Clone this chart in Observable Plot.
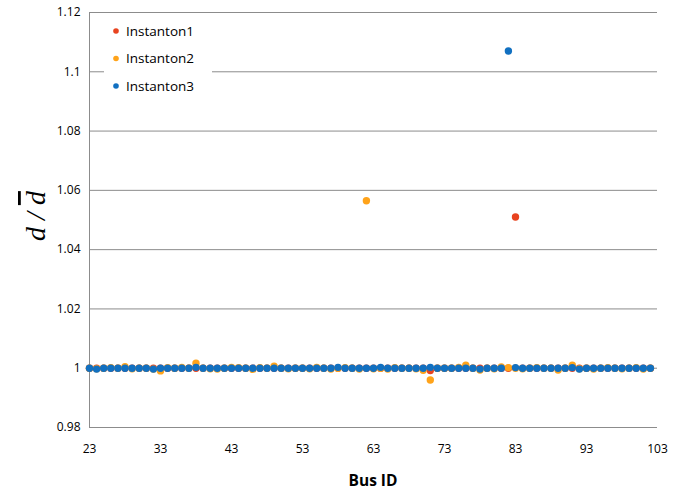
<!DOCTYPE html>
<html>
<head>
<meta charset="utf-8">
<script src="https://cdn.jsdelivr.net/npm/d3@7"></script>
<script src="https://cdn.jsdelivr.net/npm/@observablehq/plot@0.6"></script>
<style>
  html, body { margin: 0; padding: 0; background: #fff; }
  #chart svg { display: block; }
</style>
</head>
<body>
<div id="chart"></div>
<script>
// ---- Data ----
const seriesNames = ["Instanton1", "Instanton2", "Instanton3"];
const seriesColors = ["#E8431F", "#FFA31A", "#1170C1"];
const busIds = d3.range(23, 103); // 23 .. 102

// Instanton1 (red)
const instanton1 = [
  1.0000, 1.0000, 1.0000, 1.0000, 1.0000, 1.0000, 1.0000, 1.0000, 1.0000, 1.0000, // 23-32
  1.0000, 1.0000, 1.0000, 1.0000, 1.0000, 1.0000, 1.0000, 1.0000, 1.0000, 1.0000, // 33-42
  1.0000, 1.0000, 1.0000, 1.0000, 1.0000, 1.0000, 1.0000, 1.0000, 1.0000, 1.0000, // 43-52
  1.0000, 1.0000, 1.0000, 1.0000, 1.0000, 1.0000, 1.0000, 1.0000, 1.0000, 1.0000, // 53-62
  1.0000, 1.0000, 1.0000, 1.0000, 1.0000, 1.0000, 1.0000, 1.0000, 0.9992, 1.0000, // 63-72
  1.0000, 1.0000, 1.0000, 1.0000, 1.0000, 1.0000, 1.0000, 1.0000, 1.0000, 1.0000, // 73-82
  1.0510, 1.0000, 1.0000, 1.0000, 1.0000, 1.0000, 1.0000, 1.0000, 1.0000, 1.0000, // 83-92
  1.0000, 1.0000, 1.0000, 1.0000, 1.0000, 1.0000, 1.0000, 1.0000, 1.0000, 1.0000  // 93-102
];
// Instanton2 (orange)
const instanton2 = [
  1.0000, 0.9998, 1.0000, 1.0002, 1.0000, 1.0005, 0.9998, 1.0000, 1.0000, 0.9997, // 23-32
  0.9991, 1.0002, 1.0000, 1.0003, 1.0000, 1.0017, 1.0000, 0.9998, 0.9997, 1.0000, // 33-42
  1.0003, 1.0002, 1.0000, 0.9996, 1.0002, 1.0000, 1.0007, 1.0000, 0.9998, 1.0000, // 43-52
  1.0000, 0.9998, 1.0003, 1.0000, 0.9997, 1.0000, 1.0002, 1.0000, 0.9997, 1.0565, // 53-62
  0.9998, 1.0000, 0.9997, 1.0002, 1.0000, 1.0000, 0.9998, 0.9993, 0.9960, 1.0000, // 63-72
  1.0000, 1.0000, 1.0003, 1.0010, 1.0000, 0.9994, 1.0000, 0.9998, 1.0004, 1.0002, // 73-82
  1.0000, 0.9998, 1.0000, 1.0002, 1.0000, 1.0000, 0.9994, 1.0000, 1.0010, 0.9998, // 83-92
  1.0000, 0.9997, 1.0000, 1.0002, 1.0000, 0.9998, 1.0000, 1.0002, 0.9997, 1.0000  // 93-102
];
// Instanton3 (blue)
const instanton3 = [
  1.0000, 0.9997, 1.0000, 1.0000, 1.0000, 1.0000, 1.0000, 1.0000, 1.0000, 0.9997, // 23-32
  1.0000, 1.0000, 1.0000, 1.0000, 1.0000, 1.0003, 1.0000, 1.0000, 1.0000, 1.0000, // 33-42
  1.0000, 1.0000, 1.0000, 1.0000, 1.0000, 1.0000, 1.0000, 1.0000, 1.0000, 1.0000, // 43-52
  1.0000, 1.0000, 1.0000, 1.0000, 1.0000, 1.0003, 1.0000, 1.0000, 1.0000, 1.0000, // 53-62
  1.0000, 1.0003, 1.0000, 1.0000, 1.0000, 1.0000, 1.0000, 1.0000, 1.0003, 1.0000, // 63-72
  1.0000, 1.0000, 1.0000, 1.0000, 1.0000, 0.9997, 1.0000, 1.0000, 1.0000, 1.1070, // 73-82
  1.0002, 1.0000, 1.0000, 1.0000, 1.0000, 1.0000, 1.0000, 1.0000, 1.0002, 0.9997, // 83-92
  1.0000, 1.0000, 1.0000, 1.0000, 1.0000, 1.0000, 1.0000, 1.0000, 1.0000, 1.0000  // 93-102
];

const xTicks = [23, 33, 43, 53, 63, 73, 83, 93, 103];
const yTicks = [0.98, 1.0, 1.02, 1.04, 1.06, 1.08, 1.1, 1.12];
const yTickLabels = ["0.98", "1", "1.02", "1.04", "1.06", "1.08", "1.1", "1.12"];

// ---- Build table ----
const allSeries = [instanton1, instanton2, instanton3];
const rows = [];
allSeries.forEach((vals, s) => {
  vals.forEach((v, i) => rows.push({bus: busIds[i], value: v, series: seriesNames[s]}));
});
</script>
<script>
const font = "'Open Sans', 'Liberation Sans', sans-serif";
const gridColor = "#8c8c8c";

const plot = Plot.plot({
  width: 693,
  height: 492,
  marginLeft: 89,
  marginRight: 36,
  marginTop: 12,
  marginBottom: 65,
  style: {fontFamily: font, fontSize: "12px", color: "#000", background: "#fff"},
  x: {domain: [23, 103], label: null},
  y: {domain: [0.98, 1.12], label: null},
  color: {domain: seriesNames, range: seriesColors},
  marks: [
    Plot.ruleY(yTicks, {stroke: gridColor, strokeWidth: 1}),
    Plot.ruleX([23], {stroke: gridColor, strokeWidth: 1}),
    Plot.axisX({ticks: xTicks, tickSize: 0, tickPadding: 17, tickFormat: d => String(d), label: null, fontSize: 12}),
    Plot.axisY({ticks: yTicks, tickSize: 0, tickPadding: 9, tickFormat: d => yTickLabels[yTicks.indexOf(d)], label: null, fontSize: 12}),
    Plot.dot(rows, {x: "bus", y: "value", fill: "series", r: 3.7, stroke: "none"})
  ]
});
document.getElementById("chart").appendChild(plot);

const svg = d3.select(plot);

// Y axis title: d / d̄ (italic serif, overline on the second d)
const yt = svg.append("text")
  .attr("transform", "translate(45,216) rotate(-90)")
  .attr("text-anchor", "middle")
  .style("text-anchor", "middle")
  .style("font-family", "'Liberation Serif', 'DejaVu Serif', serif")
  .style("font-style", "italic")
  .style("font-size", "28px")
  .attr("fill", "#000");
yt.append("tspan").text("d / ");
yt.append("tspan").text("d").style("text-decoration", "overline");

// X axis title
svg.append("text")
  .attr("x", 373).attr("y", 486)
  .attr("text-anchor", "middle")
  .style("font-family", font)
  .style("font-weight", "bold")
  .style("font-size", "15.5px")
  .attr("fill", "#000")
  .text("Bus ID");

// Legend (inside the plot, top-left)
const lg = svg.append("g");
lg.append("rect").attr("x", 104).attr("y", 16).attr("width", 108).attr("height", 84).attr("fill", "#fff");
seriesNames.forEach((name, i) => {
  const cy = 31 + i * 27.5;
  lg.append("circle").attr("cx", 116).attr("cy", cy).attr("r", 2.8).attr("fill", seriesColors[i]);
  lg.append("text").attr("x", 126).attr("y", cy).attr("dy", "0.35em")
    .attr("text-anchor", "start")
    .style("text-anchor", "start")
    .style("font-family", font).style("font-size", "13.5px").attr("fill", "#000").text(name);
});
</script>
</body>
</html>
